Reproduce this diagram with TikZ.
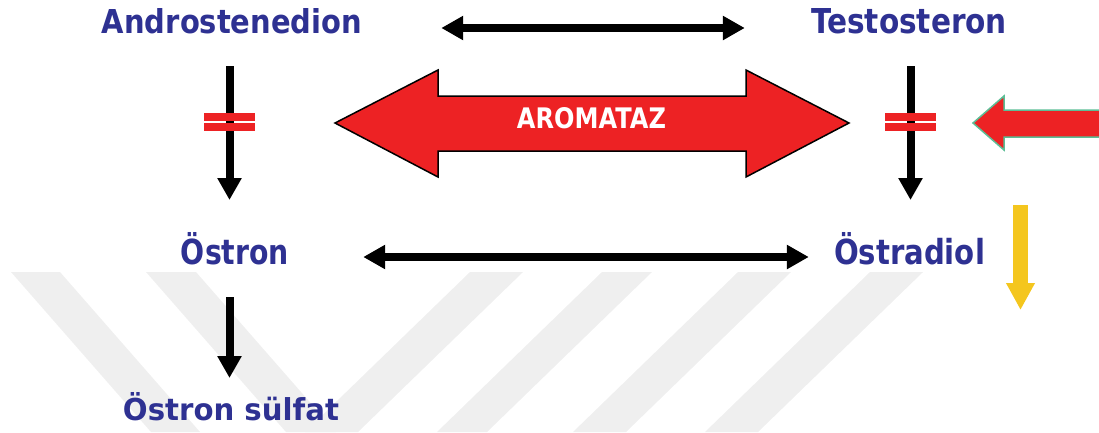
\documentclass[tikz,border=0pt]{standalone}
\usepackage{fontspec}
\setmainfont{DejaVu Sans}
\usetikzlibrary{arrows.meta,calc}
\definecolor{navy}{RGB}{46,49,146}
\definecolor{aroRed}{RGB}{237,34,36}
\definecolor{sunYellow}{RGB}{244,198,30}
\definecolor{tealEdge}{RGB}{92,190,150}
\definecolor{wmGray}{RGB}{239,239,239}

\begin{document}
\begin{tikzpicture}[x=1pt,y=-1pt,
  chem/.style={text=navy,font=\bfseries,inner sep=0pt,anchor=base},
  conn/.style={line width=8pt,-{Triangle[width=23pt,length=22pt]}},
  biconn/.style={line width=8pt,{Triangle[width=23pt,length=22pt]}-{Triangle[width=23pt,length=22pt]}},
  block/.style={fill=aroRed,minimum width=51pt,minimum height=8pt,inner sep=0pt},
  band/.style={fill=wmGray}]
\useasboundingbox (0,0) rectangle (1099,432);
\clip (0,0) rectangle (1099,432);

% faint diagonal background bands
\fill[band] (11,272) -- (60,272) -- (200,432) -- (151,432) -- cycle;
\fill[band] (146,272) -- (196,272) -- (336,432) -- (286,432) -- cycle;
\fill[band] (470,272) -- (523,272) -- (358,432) -- (305,432) -- cycle;
\fill[band] (602,272) -- (652,272) -- (487,432) -- (437,432) -- cycle;
\fill[band] (738,272) -- (791,272) -- (626,432) -- (573,432) -- cycle;
\fill[band] (870,272) -- (923,272) -- (758,432) -- (705,432) -- cycle;

% compounds
\node[chem] (andro) at (232,33) {\resizebox{260pt}{25pt}{Androstenedion}};
\node[chem] (testo) at (909,33) {\resizebox{196pt}{25pt}{Testosteron}};
\node[chem] (oestron) at (235,264) {\resizebox{108pt}{32pt}{Östron}};
\node[chem] (oestradiol) at (909.5,264) {\resizebox{151pt}{32pt}{Östradiol}};
\node[chem] (sulfat) at (231,420) {\resizebox{216pt}{28pt}{Östron sülfat}};

% aromatase double arrow
\fill[aroRed,draw=black,line width=1.5pt,line join=miter]
  (335,123) -- (438,70) -- (438,96) -- (746,96) -- (746,70) -- (849,123)
  -- (746,177) -- (746,151) -- (438,151) -- (438,177) -- cycle;
\node[text=white,font=\bfseries,inner sep=0pt,anchor=base] (aro) at (591.5,128)
  {\resizebox{149pt}{21pt}{AROMATAZ}};

% inhibitor arrow entering from the right
\fill[aroRed,draw=tealEdge,line width=1.5pt]
  (973,123) -- (1004,96) -- (1004,110) -- (1110,110) -- (1110,137)
  -- (1004,137) -- (1004,150) -- cycle;

% reactions
\coordinate (lx) at (229.5,0);
\coordinate (rx) at (910.5,0);
\draw[biconn,shorten <=79pt,shorten >=66pt]
  ([yshift=5pt]andro.base east) -- ([yshift=5pt]testo.base west);
\draw[biconn,shorten <=74pt,shorten >=25pt]
  ([yshift=7pt]oestron.base east) -- ([yshift=7pt]oestradiol.base west);
\draw[conn,shorten <=33pt,shorten >=64pt] (lx |- andro.base) -- (lx |- oestron.base);
\draw[conn,shorten <=33pt,shorten >=64pt] (rx |- testo.base) -- (rx |- oestradiol.base);
\draw[conn,shorten <=33pt,shorten >=42pt] (lx |- oestron.base) -- (lx |- sulfat.base);

% blocked steps
\node[block] (blockL1) at (229.5,117) {};
\node[block] (blockL2) at (229.5,127) {};
\node[block] (blockR1) at (910,117) {};
\node[block] (blockR2) at (910,127) {};

% decrease marker
\coordinate (ytop) at (1020.5,205);
\coordinate (ybot) at (1020.5,310);
\draw[sunYellow,line width=15pt,-{Triangle[width=27pt,length=27pt]}] (ytop) -- (ybot);
\end{tikzpicture}
\end{document}
